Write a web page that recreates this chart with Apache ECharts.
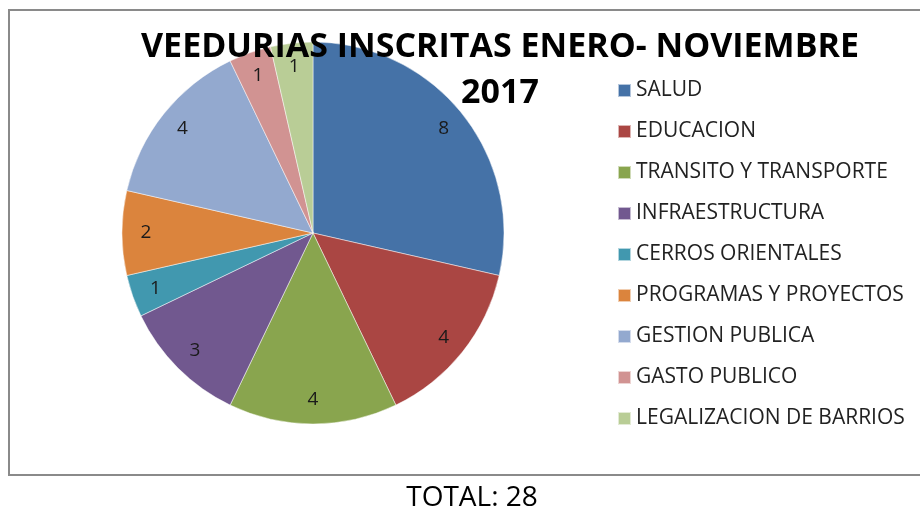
<!DOCTYPE html>
<html>
<head>
<meta charset="utf-8">
<script src="https://cdn.jsdelivr.net/npm/echarts@6/dist/echarts.min.js"></script>
<style>
  html, body { margin: 0; padding: 0; background: #fff; }
  #chart { width: 920px; height: 510px; }
</style>
</head>
<body>
<div id="chart"></div>
<script>
// datos del grafico
const categories = ['SALUD', 'EDUCACION', 'TRANSITO Y TRANSPORTE', 'INFRAESTRUCTURA', 'CERROS ORIENTALES',
  'PROGRAMAS Y PROYECTOS', 'GESTION PUBLICA', 'GASTO PUBLICO', 'LEGALIZACION DE BARRIOS']
const values = [8, 4, 4, 3, 1, 2, 4, 1, 1]
const colors = ['#4572A7', '#AA4643', '#89A54E', '#71588F', '#4198AF', '#DB843D', '#93A9CF', '#D19392', '#B9CD96']
const totalText = 'TOTAL: 28'

const chart = echarts.init(document.getElementById('chart'))

const pieData = categories.map((name, i) => ({ name: name, value: values[i] }))

const option = {
  animation: false,
  color: colors,
  title: [
    {
      text: 'VEEDURIAS INSCRITAS ENERO- NOVIEMBRE\n2017',
      left: 495,
      top: 19,
      textAlign: 'center',
      textStyle: {
        fontFamily: 'Open Sans',
        fontWeight: 'bold',
        fontSize: 34,
        lineHeight: 46,
        color: '#000'
      }
    },
    {
      text: totalText,
      left: 467,
      top: 477,
      textAlign: 'center',
      textStyle: {
        fontFamily: 'Open Sans',
        fontWeight: 'normal',
        fontSize: 28,
        lineHeight: 32,
        color: '#000'
      }
    }
  ],
  legend: {
    orient: 'vertical',
    left: 617,
    top: 80,
    padding: 0,
    itemWidth: 13,
    itemHeight: 13,
    itemGap: 20,
    data: categories,
    icon: 'rect',
    textStyle: {
      fontFamily: 'Open Sans',
      fontSize: 21,
      lineHeight: 20,
      color: '#222'
    }
  },
  graphic: [
    {
      type: 'rect',
      shape: { x: 9, y: 10, width: 930, height: 465 },
      style: { fill: 'none', stroke: '#8a8a8a', lineWidth: 2 },
      z: -10
    }
  ],
  series: [
    {
      type: 'pie',
      center: [313, 233],
      radius: [0, 191],
      startAngle: 90,
      clockwise: true,
      data: pieData,
      label: { show: false },
      labelLine: { show: false },
      itemStyle: { borderColor: 'rgba(255,255,255,0.6)', borderWidth: 0.8 },
      emphasis: { disabled: true }
    },
    {
      // serie transparente solo para colocar las etiquetas cerca del borde
      type: 'pie',
      center: [313, 233],
      radius: [137, 191],
      startAngle: 90,
      clockwise: true,
      silent: true,
      data: pieData,
      itemStyle: { color: 'transparent', borderWidth: 0 },
      label: {
        show: true,
        position: 'inside',
        formatter: '{c}',
        fontFamily: 'Open Sans',
        fontSize: 19,
        color: '#1a1a1a'
      },
      labelLine: { show: false },
      emphasis: { disabled: true }
    }
  ]
}

chart.setOption(option)
</script>
</body>
</html>
